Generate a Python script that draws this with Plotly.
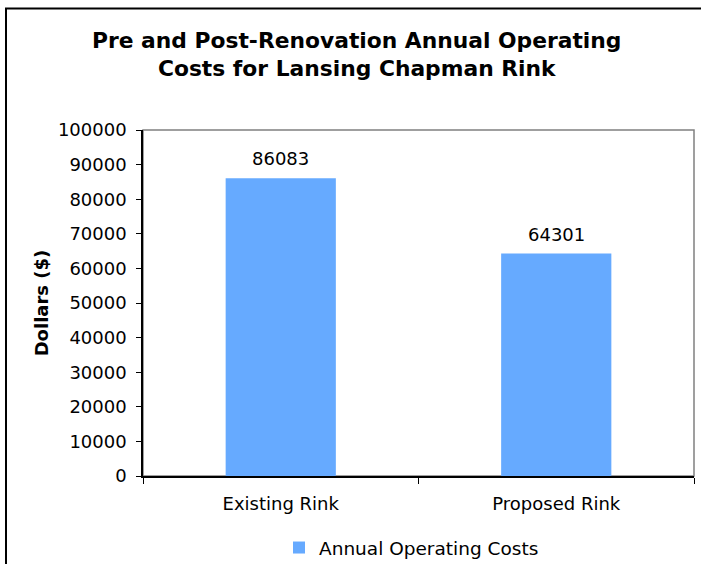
import plotly.graph_objects as go

# Chart data
categories = ["Existing Rink", "Proposed Rink"]
operating_costs = [86083, 64301]
series_name = "Annual Operating Costs"
y_tick_values = [0, 10000, 20000, 30000, 40000, 50000, 60000, 70000, 80000, 90000, 100000]

W, H = 701, 564
ML, MR, MT, MB = 143, 7, 130, 88
PW = W - ML - MR
PH = H - MT - MB


def px_x(px):
    return (px - ML) / PW


def px_y(py):
    return (H - MB - py) / PH


FONT = "DejaVu Sans"
BAR_COLOR = "#66AAFF"

fig = go.Figure()
fig.add_trace(go.Bar(
    x=categories,
    y=operating_costs,
    name=series_name,
    marker=dict(color=BAR_COLOR, line=dict(width=0)),
    showlegend=True,
))

# value labels above each bar
value_labels = [
    dict(
        x=cat, y=val, xref="x", yref="y",
        text=str(val), showarrow=False,
        yanchor="bottom", yshift=7,
        font=dict(family=FONT, size=18, color="#000000"),
    )
    for cat, val in zip(categories, operating_costs)
]

fig.update_layout(
    width=W,
    height=H,
    margin=dict(l=ML, r=MR, t=MT, b=MB, autoexpand=False),
    paper_bgcolor="white",
    plot_bgcolor="white",
    bargap=0.6,
    font=dict(family=FONT, color="#000000"),
    annotations=[
        dict(
            text="<b>Pre and Post-Renovation Annual Operating<br>Costs for Lansing Chapman Rink</b>",
            xref="paper", yref="paper",
            x=px_x(356), y=px_y(55),
            xanchor="center", yanchor="middle",
            showarrow=False,
            font=dict(family=FONT, size=21.8, color="#000000"),
            align="center",
        ),
    ] + value_labels,
    legend=dict(
        orientation="h",
        x=px_x(279), xanchor="left",
        y=px_y(548), yanchor="middle",
        font=dict(family=FONT, size=18.5, color="#000000"),
        bgcolor="rgba(0,0,0,0)",
        itemwidth=30,
    ),
    shapes=[
        # plot area frame (top and right edges grey)
        dict(type="rect", xref="paper", yref="paper", x0=0, x1=1, y0=0, y1=1,
             line=dict(color="#808080", width=1.5), layer="below"),
        # outer chart border
        dict(type="rect", xref="paper", yref="paper",
             x0=px_x(6), x1=px_x(720), y0=px_y(580), y1=px_y(8.5),
             line=dict(color="#000000", width=2)),
    ],
)

fig.update_xaxes(
    showline=True, linecolor="#000000", linewidth=1.5,
    ticks="outside", tickson="boundaries", ticklen=6, tickcolor="#000000",
    tickfont=dict(family=FONT, size=18, color="#000000"),
    ticklabelstandoff=11,
    showgrid=False, zeroline=False,
)

fig.update_yaxes(
    range=[0, 100000],
    tickvals=y_tick_values,
    ticktext=[str(v) for v in y_tick_values],
    showline=True, linecolor="#000000", linewidth=1.5,
    ticks="outside", ticklen=5, tickcolor="#000000",
    tickfont=dict(family=FONT, size=18, color="#000000"),
    ticklabelstandoff=6,
    showgrid=False, zeroline=False,
    title=dict(text="<b>Dollars ($)</b>", font=dict(family=FONT, size=18, color="#000000"), standoff=5),
)

fig.write_html("out.html")
